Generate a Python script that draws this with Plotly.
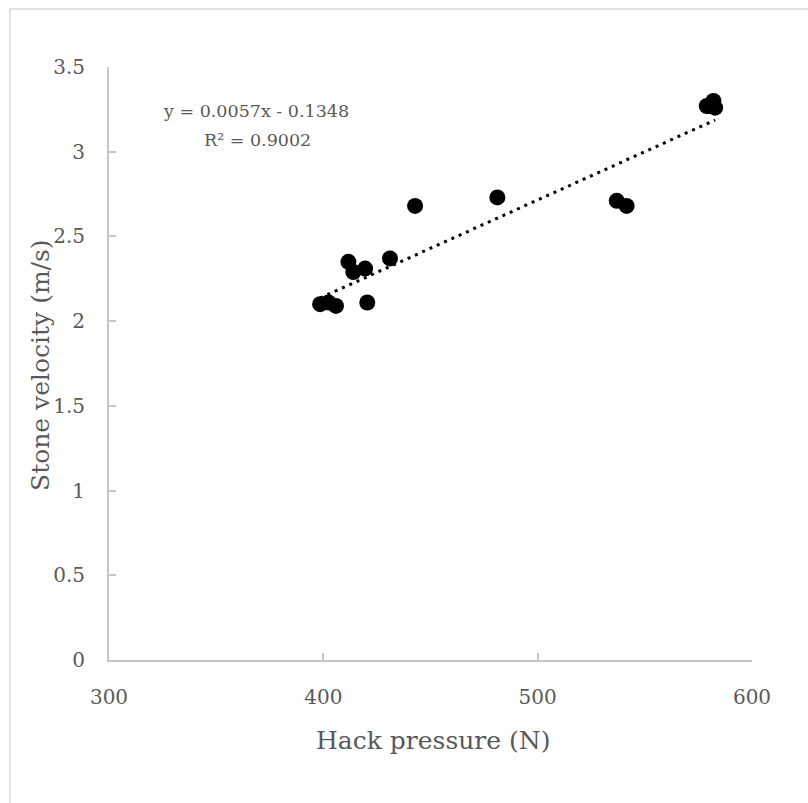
import plotly.graph_objects as go

# Data
hack_pressure = [398.5, 402.4, 405.9, 411.7, 414.0, 419.5, 420.5, 431.1, 442.8,
                 481.2, 536.9, 541.5, 578.9, 580.5, 582.0, 582.8]
stone_velocity = [2.10, 2.11, 2.09, 2.35, 2.29, 2.31, 2.11, 2.37, 2.68,
                  2.73, 2.71, 2.68, 3.27, 3.27, 3.30, 3.26]

# Trendline coefficients as shown in the chart
trend_slope = 0.0057
trend_intercept = -0.1348
equation_text = "y = 0.0057x - 0.1348"
r2_text = "R² = 0.9002"
x_title = "Hack pressure (N)"
y_title = "Stone velocity (m/s)"

x_ticks = [300, 400, 500, 600]
y_ticks = [0, 0.5, 1, 1.5, 2, 2.5, 3, 3.5]
y_tick_labels = ["0", "0.5", "1", "1.5", "2", "2.5", "3", "3.5"]

FONT = "DejaVu Serif"
TEXT_COLOR = "#595959"
AXIS_COLOR = "#c6c6c6"

x_min, x_max = min(hack_pressure), max(hack_pressure)
trend_x = [x_min, x_max]
trend_y = [trend_slope * v + trend_intercept for v in trend_x]

fig = go.Figure()
fig.add_trace(go.Scatter(
    x=trend_x, y=trend_y, mode="lines",
    line=dict(color="black", width=3, dash="3px,5px"),
    hoverinfo="skip", showlegend=False,
))
fig.add_trace(go.Scatter(
    x=hack_pressure, y=stone_velocity, mode="markers",
    marker=dict(color="black", size=16, line=dict(width=0)),
    showlegend=False,
))

fig.add_annotation(x=368.5, y=3.24, text=equation_text, showarrow=False,
                   xref="x", yref="y",
                   font=dict(family=FONT, size=17.5, color=TEXT_COLOR))
fig.add_annotation(x=369.5, y=3.07, text=r2_text, showarrow=False,
                   xref="x", yref="y",
                   font=dict(family=FONT, size=17.5, color=TEXT_COLOR))

L, R, T, B = 109, 56, 67, 143
W, H = 808, 803
pw, ph = W - L - R, H - T - B

# axis titles placed as in the reference
fig.add_annotation(x=(433 - L) / pw, y=(H - B - 740) / ph, xref="paper", yref="paper",
                   text=x_title, showarrow=False, xanchor="center", yanchor="middle",
                   font=dict(family=FONT, size=25, color=TEXT_COLOR))
fig.add_annotation(x=(40 - L) / pw, y=(H - B - 365) / ph, xref="paper", yref="paper",
                   text=y_title, showarrow=False, textangle=-90,
                   xanchor="center", yanchor="middle",
                   font=dict(family=FONT, size=25, color=TEXT_COLOR))

# outer chart border (light gray), extending past the window
fig.add_shape(type="rect", xref="paper", yref="paper",
              x0=(10 - L) / pw, x1=(W + 20 - L) / pw,
              y0=(H - B - (H + 20)) / ph, y1=(H - B - 9) / ph,
              line=dict(color="#d9d9d9", width=1.5), fillcolor="rgba(0,0,0,0)",
              layer="below")

fig.update_layout(
    width=W, height=H,
    margin=dict(l=L, r=R, t=T, b=B),
    paper_bgcolor="white", plot_bgcolor="white",
    font=dict(family=FONT, color=TEXT_COLOR, size=20),
    xaxis=dict(
        range=[300, 600], tickvals=x_ticks, ticks="inside", ticklen=7,
        tickcolor=AXIS_COLOR, tickwidth=1.5,
        showline=True, linecolor=AXIS_COLOR, linewidth=2,
        showgrid=False, zeroline=False,
        tickfont=dict(family=FONT, size=20, color=TEXT_COLOR),
        ticklabelstandoff=18,
    ),
    yaxis=dict(
        range=[0, 3.5], tickvals=y_ticks, ticktext=y_tick_labels,
        ticks="inside", ticklen=7, tickcolor=AXIS_COLOR, tickwidth=1.5,
        showline=True, linecolor=AXIS_COLOR, linewidth=2,
        showgrid=False, zeroline=False,
        tickfont=dict(family=FONT, size=20, color=TEXT_COLOR),
        ticklabelstandoff=18,
    ),
)

fig.write_html("out.html")
